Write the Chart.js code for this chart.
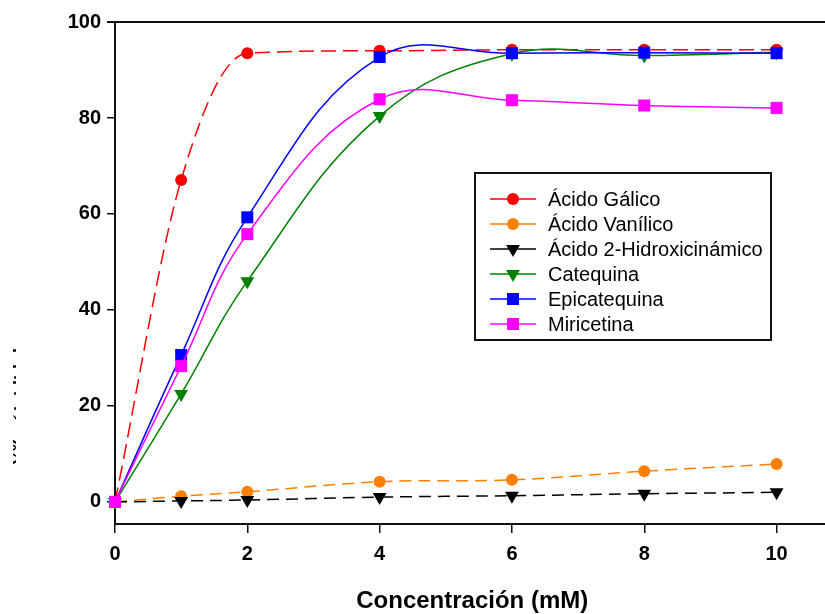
<!DOCTYPE html>
<html>
<head>
<meta charset="utf-8">
<script src="https://cdn.jsdelivr.net/npm/chart.js@4.4.1/dist/chart.umd.min.js"></script>
<style>
    html, body { margin: 0; padding: 0; background: #fff; overflow: hidden; }
    #wrap { width: 825px; height: 614px; overflow: hidden; }
</style>
</head>
<body>
<div id="wrap"><canvas id="chart" width="838" height="614"></canvas></div>
<script>
// Datos
var concentraciones = [0, 1, 2, 4, 6, 8, 10];
var acidoGalico     = [0, 67.1, 93.5, 94.0, 94.2, 94.2, 94.2];
var acidoVanilico   = [0, 1.2, 2.1, 4.2, 4.6, 6.4, 7.9];
var acidoHidroxi    = [0, 0.2, 0.4, 1.0, 1.3, 1.7, 2.0];
var catequina       = [0, 22.5, 46.0, 80.4, 93.4, 93.0, 93.7];
var epicatequina    = [0, 30.6, 59.3, 92.7, 93.5, 93.6, 93.5];
var miricetina      = [0, 28.3, 55.8, 83.9, 83.7, 82.6, 82.1];
var xTicks = [0, 2, 4, 6, 8, 10];
var yTicks = [0, 20, 40, 60, 80, 100];

var FONT = '"Liberation Sans", Arial, sans-serif';

function toPoints(values) {
    return concentraciones.map(function (c, i) { return { x: c, y: values[i] }; });
}

function serie(label, values, color, style, radius, rotation, dash, order) {
    return {
        label: label,
        data: toPoints(values),
        borderColor: color,
        backgroundColor: color,
        pointBackgroundColor: color,
        pointBorderColor: color,
        pointBorderWidth: 0,
        pointStyle: style,
        pointRadius: radius,
        pointRotation: rotation,
        borderWidth: 1.5,
        borderDash: dash,
        tension: 0.4,
        clip: false,
        order: order
    };
}

var galico = serie('Ácido Gálico', acidoGalico, '#ff0000', 'circle', 6, 0, [15, 7], 6);
galico.cubicInterpolationMode = 'monotone';

var datasets = [
    galico,
    serie('Ácido Vanílico', acidoVanilico, '#ff8000', 'circle', 6, 0, [12, 7], 5),
    serie('Ácido 2-Hidroxicinámico', acidoHidroxi, '#000000', 'triangle', 8, 180, [12, 7], 4),
    serie('Catequina', catequina, '#008000', 'triangle', 8, 180, [], 3),
    serie('Epicatequina', epicatequina, '#0000ff', 'rect', 8.5, 0, [], 2),
    serie('Miricetina', miricetina, '#ff00ff', 'rect', 8.5, 0, [], 1)
];

// Marco superior / derecho
var framePlugin = {
    id: 'frame',
    afterDraw: function (chart) {
        var a = chart.chartArea, ctx = chart.ctx;
        ctx.save();
        ctx.strokeStyle = '#111';
        ctx.lineWidth = 2;
        ctx.beginPath();
        ctx.moveTo(a.left - 8, a.top);
        ctx.lineTo(a.right, a.top);
        ctx.lineTo(a.right, a.bottom);
        ctx.stroke();
        ctx.restore();
    }
};

// Titulo del eje Y, casi todo fuera del recorte
var yTitlePlugin = {
    id: 'yTitle',
    afterDraw: function (chart) {
        var ctx = chart.ctx;
        ctx.save();
        ctx.beginPath();
        ctx.rect(13, 0, 3, chart.height);
        ctx.clip();
        ctx.translate(3, 407);
        ctx.rotate(Math.PI / 2);
        ctx.font = 'bold 18px ' + FONT;
        ctx.fillStyle = '#000';
        ctx.textAlign = 'center';
        ctx.textBaseline = 'alphabetic';
        ctx.fillText('Inhibición (%)', 0, 0);
        ctx.restore();
    }
};

// Leyenda con recuadro dentro del area
var legendPlugin = {
    id: 'boxLegend',
    afterDraw: function (chart) {
        var ctx = chart.ctx;
        var left = 475, top = 173, w = 296, h = 167;
        ctx.save();
        ctx.fillStyle = '#fff';
        ctx.fillRect(left, top, w, h);
        ctx.strokeStyle = '#111';
        ctx.lineWidth = 2;
        ctx.strokeRect(left, top, w, h);
        ctx.font = '20px ' + FONT;
        ctx.textBaseline = 'middle';
        chart.data.datasets.forEach(function (ds, i) {
            var y = top + 26 + i * 25;
            ctx.strokeStyle = ds.borderColor;
            ctx.lineWidth = 1.5;
            ctx.setLineDash([]);
            ctx.beginPath();
            ctx.moveTo(490, y);
            ctx.lineTo(536, y);
            ctx.stroke();
            ctx.fillStyle = ds.pointBackgroundColor;
            Chart.helpers.drawPoint(ctx, {
                pointStyle: ds.pointStyle,
                radius: ds.pointRadius,
                rotation: ds.pointRotation,
                borderWidth: 0
            }, 513, y);
            ctx.fillStyle = '#000';
            ctx.fillText(ds.label, 548, y + 1);
        });
        ctx.restore();
    }
};

new Chart(document.getElementById('chart'), {
    type: 'line',
    data: { datasets: datasets },
    options: {
        responsive: false,
        animation: false,
        devicePixelRatio: 1,
        layout: { padding: { top: 22, right: 4, left: 0, bottom: 0 } },
        plugins: {
            legend: { display: false },
            tooltip: { enabled: false }
        },
        scales: {
            x: {
                type: 'linear',
                min: 0,
                max: 10.8,
                afterBuildTicks: function (s) { s.ticks = xTicks.map(function (v) { return { value: v }; }); },
                afterFit: function (s) { s.height = 90; },
                grid: { drawOnChartArea: false, drawTicks: true, tickLength: 9, color: '#111', lineWidth: 1.5 },
                border: { display: true, color: '#111', width: 2 },
                ticks: { color: '#000', padding: 9, maxRotation: 0, font: { family: FONT, size: 20, weight: 'bold' } },
                title: {
                    display: true,
                    text: 'Concentración (mM)',
                    color: '#000',
                    padding: { top: 0, bottom: 0 },
                    font: { family: FONT, size: 24, weight: 'bold', lineHeight: 1.05 }
                }
            },
            y: {
                type: 'linear',
                min: -4.6,
                max: 100,
                afterBuildTicks: function (s) { s.ticks = yTicks.map(function (v) { return { value: v }; }); },
                afterFit: function (s) { s.width = 115; },
                grid: { drawOnChartArea: false, drawTicks: true, tickLength: 8, color: '#111', lineWidth: 1.5 },
                border: { display: true, color: '#111', width: 2 },
                ticks: { color: '#000', padding: 6, font: { family: FONT, size: 20, weight: 'bold' } }
            }
        }
    },
    plugins: [framePlugin, yTitlePlugin, legendPlugin]
});
</script>
</body>
</html>
